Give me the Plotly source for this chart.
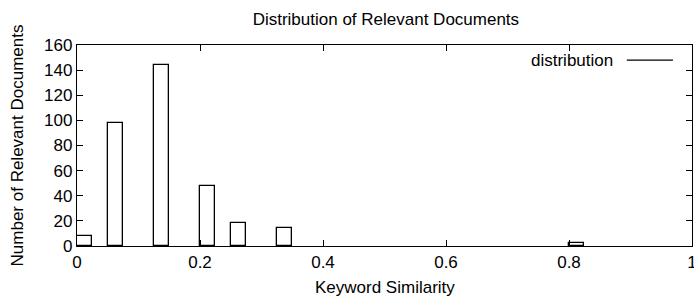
import plotly.graph_objects as go

similarity = [0.0125, 0.0625, 0.1375, 0.2125, 0.2625, 0.3375, 0.8125]
counts = [8, 98, 144, 48, 18, 14, 2]
bar_width = 0.025
x_ticks = [0, 0.2, 0.4, 0.6, 0.8, 1]
x_tick_labels = ["0", "0.2", "0.4", "0.6", "0.8", "1"]
y_ticks = [0, 20, 40, 60, 80, 100, 120, 140, 160]

font = "Liberation Sans, Arial, sans-serif"
FS = 17

fig = go.Figure()
fig.add_trace(go.Bar(
    x=similarity, y=counts, width=bar_width,
    marker=dict(color="white", line=dict(color="black", width=1.3)),
    showlegend=False,
))

axis_common = dict(
    showline=True, linecolor="black", linewidth=1.3, mirror="ticks",
    ticks="inside", ticklen=6, tickcolor="black", tickwidth=1,
    showgrid=False, zeroline=False, automargin=False,
    ticklabeloverflow="allow",
    tickfont=dict(family=font, size=FS, color="black"),
)

fig.update_layout(
    width=694, height=297,
    margin=dict(l=77, r=2, t=45, b=51),
    paper_bgcolor="white", plot_bgcolor="white",
    title=dict(text="Distribution of Relevant Documents", x=0.556, xanchor="center",
               y=0.937, yanchor="middle", font=dict(family=font, size=FS, color="black")),
    xaxis=dict(range=[0, 1], tickvals=x_ticks, ticktext=x_tick_labels, **axis_common),
    yaxis=dict(range=[0, 160], tickvals=y_ticks, **axis_common),
    bargap=0,
)

# axis titles
fig.add_annotation(xref="paper", yref="paper", x=0.5, y=-0.204, xanchor="center", yanchor="middle",
                   text="Keyword Similarity", showarrow=False, font=dict(family=font, size=FS, color="black"))
fig.add_annotation(xref="paper", yref="paper", x=-0.096, y=0.5, xanchor="center", yanchor="middle",
                   text="Number of Relevant Documents", textangle=-90, showarrow=False,
                   font=dict(family=font, size=FS, color="black"))

# legend: text + line sample
fig.add_annotation(xref="paper", yref="paper", x=0.875, y=0.925, xanchor="right", yanchor="middle",
                   text="distribution", showarrow=False, font=dict(family=font, size=FS, color="black"))
fig.add_shape(type="line", xref="paper", yref="paper", x0=0.894, x1=0.969, y0=0.925, y1=0.925,
              line=dict(color="black", width=1.3))

fig.write_html("out.html", config={"displayModeBar": False},
               post_script="document.body.style.margin='0';document.body.style.overflow='hidden';")
